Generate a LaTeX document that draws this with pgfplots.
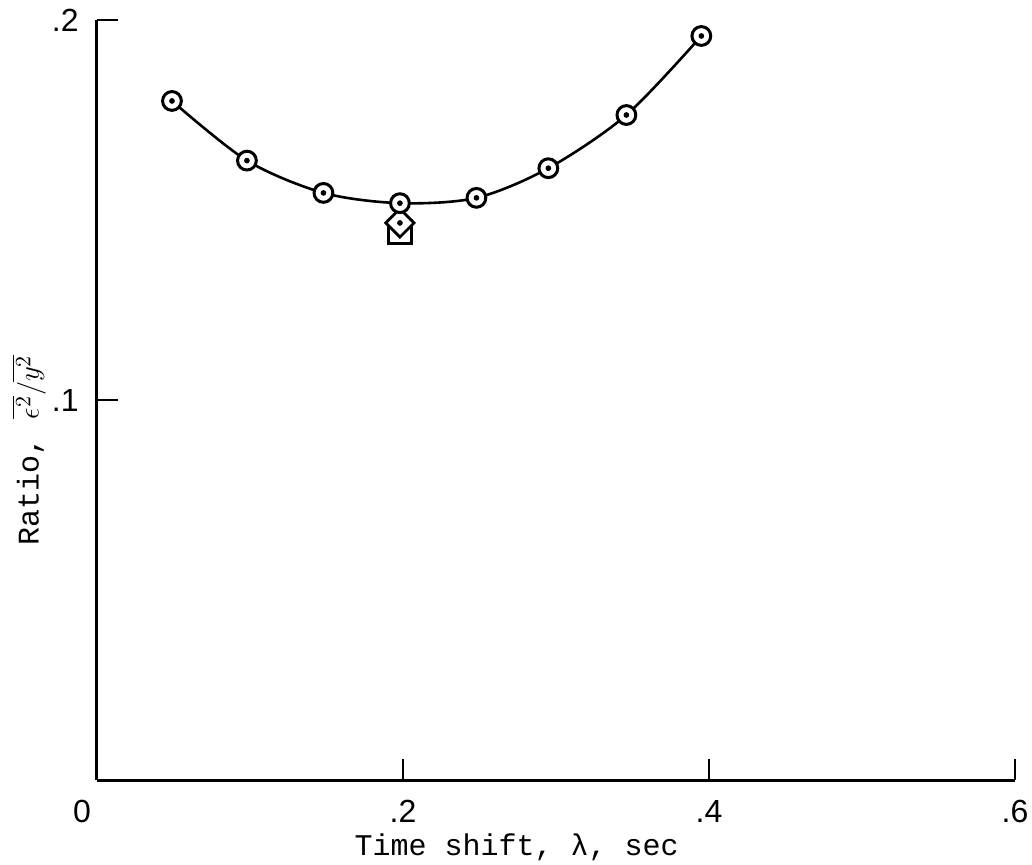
\documentclass[border=0pt]{standalone}
\usepackage{fontspec}
\setmainfont{Liberation Mono}
\newfontfamily\tickfont{Liberation Sans}
\usepackage{pgfplots}
\pgfplotsset{compat=1.18}
\begin{document}
\fontsize{15}{18}\selectfont
\begin{tikzpicture}
\useasboundingbox (-48.5pt,-42pt) rectangle (467.5pt,390pt);
\begin{axis}[
  at={(0,0)}, anchor=south west,
  scale only axis, width=459pt, height=380pt,
  xmin=0, xmax=0.6, ymin=0, ymax=0.2,
  axis lines=left, axis line style={-, line width=1.5pt},
  tick align=inside, major tick length=10.5pt,
  tick style={line width=1.3pt, black},
  xtick={0,0.2,0.4,0.6}, xticklabels={\llap{0\hspace{3pt}},.2,.4,.6},
  ytick={0.1,0.2}, yticklabels={.1,.2},
  ticklabel style={font=\tickfont\fontsize{16}{18}\selectfont},
  xticklabel style={yshift=-5pt},
  yticklabel style={xshift=-4pt},
  xlabel={Time shift, λ, sec},
  ylabel={Ratio, $\overline{\epsilon^{2}}/\overline{y^{2}}$},
  xlabel style={at={(axis description cs:0.457,-0.088)}, anchor=center},
  ylabel style={at={(axis description cs:-0.074,0.434)}, anchor=center},
  clip=false,
]
\addplot[black, line width=1.3pt, smooth] coordinates {
(0.049,0.1787)(0.098,0.163)(0.148,0.1545)(0.198,0.1518)(0.248,0.1532)(0.295,0.161)(0.346,0.175)(0.395,0.1958)};
\addplot[only marks, mark=square*, mark size=5.75pt, mark options={fill=white, draw=black, line width=1.4pt}] coordinates {(0.198,0.1443)};
\addplot[only marks, mark=square*, mark size=5pt, mark options={rotate=45, fill=white, draw=black, line width=1.4pt}] coordinates {(0.198,0.1466)};
\addplot[only marks, mark=*, mark size=1.2pt, mark options={black}] coordinates {(0.198,0.1466)};
\addplot[only marks, mark=*, mark size=4.7pt, mark options={fill=white, draw=black, line width=1.5pt}] coordinates {
(0.049,0.1787)(0.098,0.163)(0.148,0.1545)(0.198,0.1518)(0.248,0.1532)(0.295,0.161)(0.346,0.175)(0.395,0.1958)};
\addplot[only marks, mark=*, mark size=1.2pt, mark options={black}] coordinates {
(0.049,0.1787)(0.098,0.163)(0.148,0.1545)(0.198,0.1518)(0.248,0.1532)(0.295,0.161)(0.346,0.175)(0.395,0.1958)};
\end{axis}
\end{tikzpicture}
\end{document}
